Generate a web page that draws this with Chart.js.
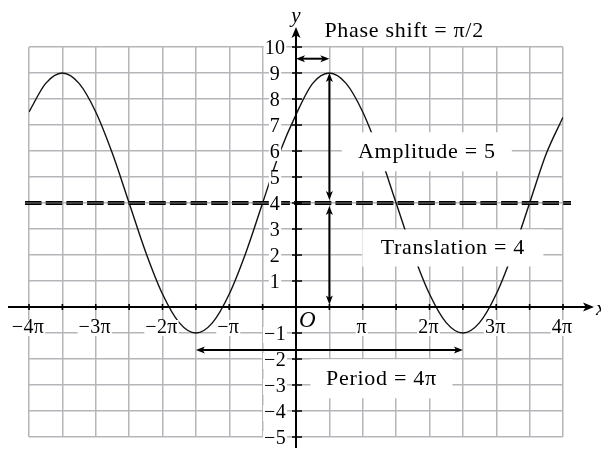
<!DOCTYPE html>
<html>
<head>
<meta charset="utf-8">
<script src="https://cdn.jsdelivr.net/npm/chart.js@4/dist/chart.umd.min.js"></script>
<style>
  body { margin: 0; background: #fff; }
  canvas { display: block; }
</style>
</head>
<body>
<canvas id="myChart" width="601" height="449"></canvas>
<script>
// x values are in multiples of pi
const xValues = [-4, -3.75, -3.5, -3.25, -3, -2.75, -2.5, -2.25, -2, -1.75, -1.5, -1.25, -1, -0.75, -0.5, -0.25,
                 0, 0.25, 0.5, 0.75, 1, 1.25, 1.5, 1.75, 2, 2.25, 2.5, 2.75, 3, 3.25, 3.5, 3.75, 4];
const yValues = [7.5, 8.6, 9, 8.6, 7.5, 5.9, 4, 2.1, 0.5, -0.6, -1, -0.6, 0.5, 2.1, 4, 5.9,
                 7.4, 8.6, 9, 8.6, 7.5, 5.9, 4, 2.1, 0.5, -0.6, -1, -0.6, 0.5, 2.1, 4, 5.9, 7.3];

// grid lines
const xGrid = [-4, -3.5, -3, -2.5, -2, -1.5, -1, -0.5, 0, 0.5, 1, 1.5, 2, 2.5, 3, 3.5, 4];
const yGrid = [-5, -4, -3, -2, -1, 0, 1, 2, 3, 4, 5, 6, 7, 8, 9, 10];

// tick labels
const xTickValues = [-4, -3, -2, -1, 1, 2, 3, 4];
const xTickLabels = ['−4π', '−3π', '−2π', '−π', 'π', '2π', '3π', '4π'];
const yTickValues = [-5, -4, -3, -2, -1, 1, 2, 3, 4, 5, 6, 7, 8, 9, 10];
const yTickLabels = ['−5', '−4', '−3', '−2', '−1', '1', '2', '3', '4', '5', '6', '7', '8', '9', '10'];

const translation = 4;

const SERIF = '"Liberation Serif", "Times New Roman", serif';

// annotation placement (in data units, x in pi)
const notes = [
    { text: 'Phase shift = π/2', x: 1.62, y: 10.6, w: 0,   h: 0 },
    { text: 'Amplitude = 5',     x: 1.96, y: 5.97, w: 170, h: 39 },
    { text: 'Translation = 4',   x: 2.35, y: 2.27, w: 181, h: 37 },
    { text: 'Period = 4π',       x: 1.28, y: -2.76, w: 142, h: 39 }
];
const arrows = [
    { x1: 0,    y1: 9.55,  x2: 0.5, y2: 9.55 },
    { x1: 0.5,  y1: 4.12,  x2: 0.5, y2: 9 },
    { x1: 0.5,  y1: 0.1,   x2: 0.5, y2: 3.88 },
    { x1: -1.5, y1: -1.65, x2: 2.5, y2: -1.65 }
];

function head(ctx, tx, ty, ux, uy, len, half) {
    ctx.beginPath();
    ctx.moveTo(tx, ty);
    ctx.lineTo(tx - ux * len - uy * half, ty - uy * len + ux * half);
    ctx.lineTo(tx - ux * len * 0.75, ty - uy * len * 0.75);
    ctx.lineTo(tx - ux * len + uy * half, ty - uy * len - ux * half);
    ctx.closePath();
    ctx.fill();
}

function boxedText(ctx, text, cx, cy, pad) {
    const w = ctx.measureText(text).width;
    ctx.fillStyle = '#fff';
    ctx.fillRect(cx - w / 2 - pad, cy - 8, w + pad * 2, 16);
    ctx.fillStyle = '#000';
    ctx.fillText(text, cx, cy);
}

const overlay = {
    id: 'overlay',
    afterDatasetsDraw(chart) {
        const { ctx, scales: { x, y } } = chart;
        const X = v => x.getPixelForValue(v);
        const Y = v => y.getPixelForValue(v);
        const x0 = X(0), y0 = Y(0);
        ctx.save();

        // white boxes behind the annotation text
        ctx.fillStyle = '#fff';
        notes.forEach(n => {
            if (n.w) ctx.fillRect(X(n.x) - n.w / 2, Y(n.y) - n.h / 2, n.w, n.h);
        });

        // dashed midline
        ctx.setLineDash([16.5, 4.2]);
        ctx.beginPath();
        ctx.moveTo(X(-4) - 4, Y(translation));
        ctx.lineTo(X(4) + 8, Y(translation));
        ctx.strokeStyle = '#000';
        ctx.lineWidth = 3.8;
        ctx.stroke();
        ctx.strokeStyle = '#8c8c8c';
        ctx.lineWidth = 0.9;
        ctx.stroke();
        ctx.setLineDash([]);

        // axes
        ctx.strokeStyle = '#000';
        ctx.fillStyle = '#000';
        ctx.lineWidth = 2;
        ctx.beginPath();
        ctx.moveTo(8, y0);
        ctx.lineTo(588, y0);
        ctx.moveTo(x0, 448);
        ctx.lineTo(x0, 33);
        ctx.stroke();
        head(ctx, 594, y0, 1, 0, 11, 4.5);
        head(ctx, x0, 27, 0, -1, 11, 4.5);

        // tick marks
        ctx.lineWidth = 1.6;
        ctx.beginPath();
        xGrid.forEach(v => {
            if (v === 0) return;
            ctx.moveTo(X(v), y0 - 3);
            ctx.lineTo(X(v), y0 + 3);
        });
        yGrid.forEach(v => {
            if (v === 0) return;
            ctx.moveTo(x0 - 4, Y(v));
            ctx.lineTo(x0 + 6, Y(v));
        });
        ctx.stroke();

        // tick labels
        ctx.font = '20px ' + SERIF;
        ctx.letterSpacing = '0.3px';
        ctx.textAlign = 'center';
        ctx.textBaseline = 'middle';
        xTickValues.forEach((v, i) => boxedText(ctx, xTickLabels[i], X(v) - 1, y0 + 21, 1));
        yTickValues.forEach((v, i) => boxedText(ctx, yTickLabels[i], x0 - 21, Y(v) + 2, 1));

        // axis names and origin
        ctx.letterSpacing = '0px';
        ctx.font = 'italic 23px ' + SERIF;
        ctx.textAlign = 'left';
        ctx.fillText('O', x0 + 3, y0 + 14);
        ctx.font = 'italic 21px ' + SERIF;
        ctx.fillText('x', 596, y0 + 2);
        ctx.textAlign = 'center';
        ctx.fillText('y', x0, 16);

        // double arrows
        ctx.lineWidth = 2;
        arrows.forEach(a => {
            const px1 = X(a.x1), py1 = Y(a.y1), px2 = X(a.x2), py2 = Y(a.y2);
            const d = Math.hypot(px2 - px1, py2 - py1);
            const ux = (px2 - px1) / d, uy = (py2 - py1) / d;
            ctx.beginPath();
            ctx.moveTo(px1 + ux * 4, py1 + uy * 4);
            ctx.lineTo(px2 - ux * 4, py2 - uy * 4);
            ctx.stroke();
            head(ctx, px2, py2, ux, uy, 9, 3.5);
            head(ctx, px1, py1, -ux, -uy, 9, 3.5);
        });

        // annotation text
        ctx.font = '22px ' + SERIF;
        ctx.letterSpacing = '0.7px';
        ctx.textAlign = 'center';
        ctx.textBaseline = 'middle';
        notes.forEach(n => ctx.fillText(n.text, X(n.x), Y(n.y)));

        ctx.restore();
    }
};

const data = {
    datasets: [{
        data: xValues.map((v, i) => ({ x: v, y: yValues[i] })),
        borderColor: '#111',
        borderWidth: 1.4,
        pointRadius: 0,
        fill: false,
        cubicInterpolationMode: 'monotone'
    }]
};

const options = {
    responsive: false,
    devicePixelRatio: 1,
    animation: false,
    layout: { padding: { left: 29, right: 38, top: 47, bottom: 12 } },
    plugins: {
        legend: { display: false },
        tooltip: { enabled: false }
    },
    scales: {
        x: {
            type: 'linear',
            min: -4,
            max: 4,
            afterBuildTicks: s => { s.ticks = xGrid.map(v => ({ value: v })); },
            ticks: { display: false },
            border: { display: false },
            grid: { color: '#b6b6ba', lineWidth: 1.5, drawTicks: false }
        },
        y: {
            min: -5,
            max: 10,
            afterBuildTicks: s => { s.ticks = yGrid.map(v => ({ value: v })); },
            ticks: { display: false },
            border: { display: false },
            grid: { color: '#b6b6ba', lineWidth: 1.5, drawTicks: false }
        }
    }
};

const myChart = new Chart(document.getElementById('myChart').getContext('2d'), {
    type: 'line',
    data,
    options,
    plugins: [overlay]
});
</script>
</body>
</html>
